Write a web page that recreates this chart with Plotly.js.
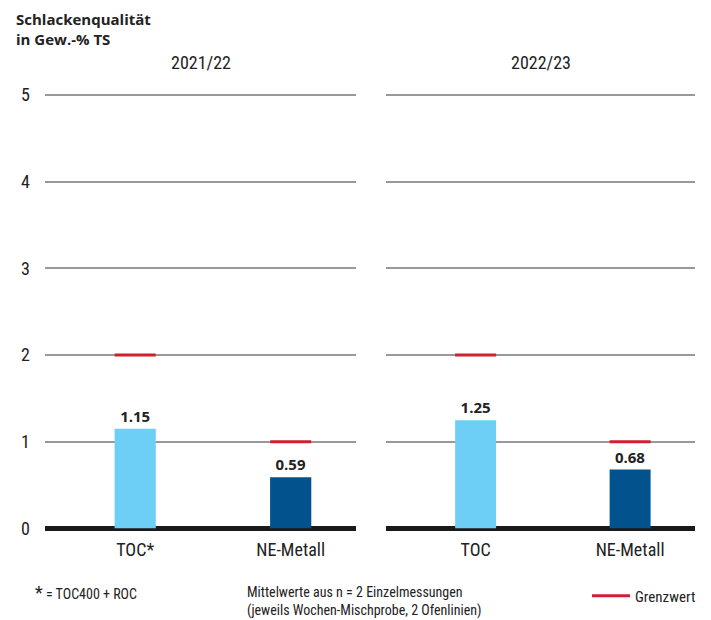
<!DOCTYPE html>
<html>
<head>
<meta charset="utf-8">
<script src="https://cdn.plot.ly/plotly-3.0.1.min.js"></script>
<style>
  html, body { margin: 0; padding: 0; background: #fff; }
  #chart { width: 711px; height: 620px; }
</style>
</head>
<body>
<div id="chart"></div>
<script>
// Schlackenqualität je Betriebsjahr
const periods = ['2021/22', '2022/23'];
const categories2122 = ['TOC*', 'NE-Metall'];
const categories2223 = ['TOC', 'NE-Metall'];
const values2122 = [1.15, 0.59];
const values2223 = [1.25, 0.68];
const limits = [2, 1];            // Grenzwert je Parameter
const yTicks = [0, 1, 2, 3, 4, 5];

const barColors = ['#6dcff6', '#02528e'];
const limitColor = '#d01f2e';
const labelFont = 'Roboto Condensed, sans-serif';
const boldFont = 'Open Sans, sans-serif';

function barTrace(cats, vals, xa, ya) {
  return {
    type: 'bar', x: cats, y: vals, xaxis: xa, yaxis: ya,
    width: 0.265,
    marker: { color: barColors },
    text: vals.map(v => v.toFixed(2)),
    textposition: 'outside',
    textfont: { family: boldFont, size: 15, color: '#222', weight: 700 },
    cliponaxis: false,
    hoverinfo: 'x+y', showlegend: false
  };
}

function limitTrace(cats, xa, ya) {
  return {
    type: 'scatter', mode: 'markers', x: cats, y: limits, xaxis: xa, yaxis: ya,
    marker: { symbol: 'line-ew', size: 29.3, line: { color: limitColor, width: 3 } },
    hoverinfo: 'x+y', showlegend: false, cliponaxis: false
  };
}

const data = [
  barTrace(categories2122, values2122, 'x', 'y'),
  barTrace(categories2223, values2223, 'x2', 'y2'),
  limitTrace(categories2122, 'x', 'y'),
  limitTrace(categories2223, 'x2', 'y2'),
  // legend entry for the limit markers
  { type: 'scatter', mode: 'lines', x: [null], y: [null], name: 'Grenzwert',
    line: { color: limitColor, width: 3 }, hoverinfo: 'skip' }
];

// y = 0 sits at 528.5 px, one unit is 86.7 px
const yDomain = [(620 - 528.5) / 620, (620 - 528.5 + 5.03 * 86.7) / 620];
const xCommon = {
  range: [-0.58, 1.42], showgrid: false, zeroline: false, showline: false,
  ticks: '', ticklabelstandoff: 8,
  tickfont: { family: labelFont, size: 18, color: '#222' }
};
const yCommon = {
  range: [0, 5.03], tickvals: yTicks, domain: yDomain,
  showgrid: true, gridcolor: '#999999', gridwidth: 2,
  zeroline: true, zerolinecolor: '#1a1a1a', zerolinewidth: 5,
  showline: false, ticks: '', fixedrange: true
};

const layout = {
  width: 711, height: 620,
  margin: { l: 0, r: 0, t: 0, b: 0 },
  paper_bgcolor: '#fff', plot_bgcolor: '#fff',
  xaxis: Object.assign({}, xCommon, { domain: [45 / 711, 356 / 711], anchor: 'y' }),
  xaxis2: Object.assign({}, xCommon, { domain: [386 / 711, 695 / 711], anchor: 'y2' }),
  yaxis: Object.assign({}, yCommon, { anchor: 'x', ticklabelstandoff: 14,
    tickfont: { family: labelFont, size: 18, color: '#222' } }),
  yaxis2: Object.assign({}, yCommon, { anchor: 'x2', matches: 'y', showticklabels: false }),
  showlegend: true,
  legend: {
    x: 587 / 711, y: 1 - 596 / 620, xanchor: 'left', yanchor: 'middle',
    orientation: 'h', bgcolor: 'rgba(0,0,0,0)', itemwidth: 38,
    font: { family: labelFont, size: 15, color: '#222' }
  },
  annotations: [
    { text: '<b>Schlackenqualität<br>in Gew.-% TS</b>', xref: 'paper', yref: 'paper',
      x: 14 / 711, y: 1 - 7 / 620, xanchor: 'left', yanchor: 'top', align: 'left',
      showarrow: false, font: { family: boldFont, size: 15, color: '#222' } },
    { text: periods[0], xref: 'x domain', yref: 'paper', x: 0.5, y: 1 - 63 / 620,
      xanchor: 'center', yanchor: 'middle', showarrow: false,
      font: { family: labelFont, size: 18, color: '#222' } },
    { text: periods[1], xref: 'x2 domain', yref: 'paper', x: 0.5, y: 1 - 63 / 620,
      xanchor: 'center', yanchor: 'middle', showarrow: false,
      font: { family: labelFont, size: 18, color: '#222' } },
    { text: '<span style="font-size:18px">*</span> = TOC400 + ROC', xref: 'paper', yref: 'paper',
      x: 33 / 711, y: 1 - 592 / 620, xanchor: 'left', yanchor: 'middle', showarrow: false,
      font: { family: labelFont, size: 14, color: '#222' } },
    { text: 'Mittelwerte aus n = 2 Einzelmessungen<br>(jeweils Wochen-Mischprobe, 2 Ofenlinien)',
      xref: 'paper', yref: 'paper', x: 245 / 711, y: 1 - 601 / 620,
      xanchor: 'left', yanchor: 'middle', align: 'left', showarrow: false,
      font: { family: labelFont, size: 14, color: '#222' } }
  ]
};

Plotly.newPlot('chart', data, layout, { displayModeBar: false, staticPlot: true });
</script>
</body>
</html>
